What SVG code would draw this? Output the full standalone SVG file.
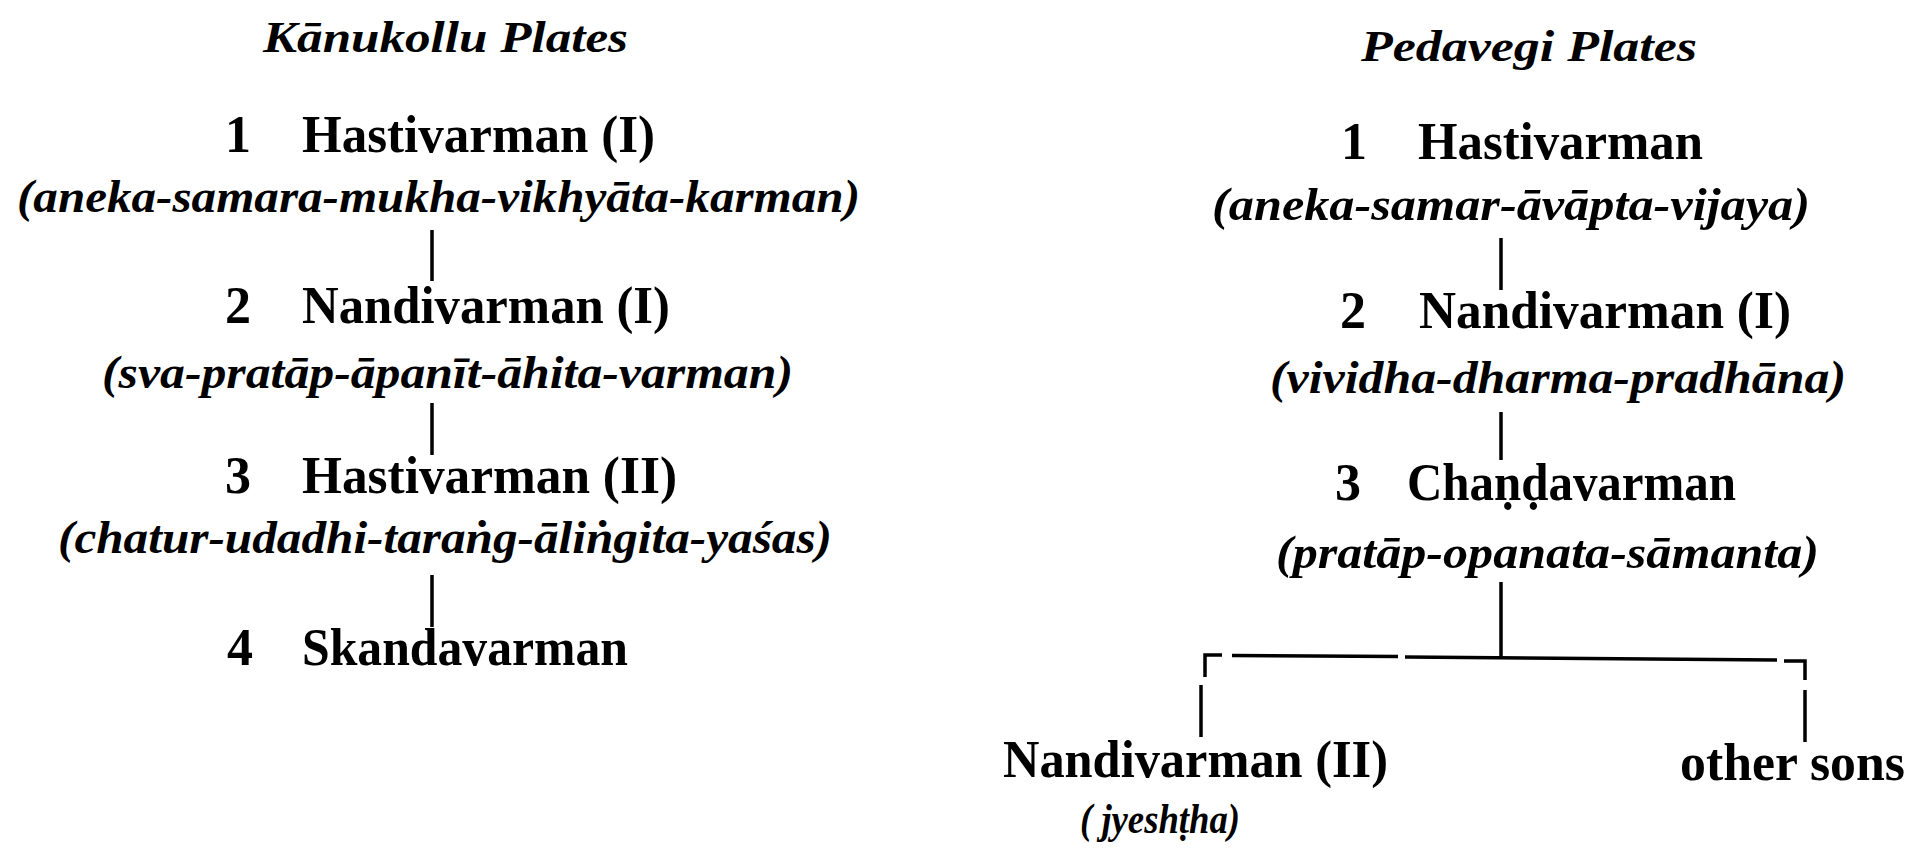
<svg xmlns="http://www.w3.org/2000/svg" width="1912" height="854" viewBox="0 0 1912 854">
<style>
text { font-family: "Liberation Serif", "Times New Roman", serif; fill: #000; }
.title { font-size: 44px; font-style: italic; font-weight: bold; }
.name { font-size: 52px; font-weight: bold; }
.num { font-size: 52px; font-weight: bold; text-anchor: middle; }
.epi { font-size: 46px; font-style: italic; font-weight: bold; }
.ln { stroke: #000; stroke-width: 3.5; fill: none; stroke-linecap: butt; }
</style>
<rect width="1912" height="854" fill="#fff"/>

<g id="title-kanukollu">
<text class="title" x="263" y="52" textLength="365" lengthAdjust="spacingAndGlyphs">Kānukollu Plates</text>
</g>
<g id="title-pedavegi">
<text class="title" x="1361" y="61" textLength="336" lengthAdjust="spacingAndGlyphs">Pedavegi Plates</text>
</g>

<g id="k1">
<text class="num" x="238" y="152">1</text>
<text class="name" x="302" y="152" textLength="353" lengthAdjust="spacingAndGlyphs">Hastivarman (I)</text>
<text class="epi" x="17" y="212" textLength="843" lengthAdjust="spacingAndGlyphs">(aneka-samara-mukha-vikhyāta-karman)</text>
</g>
<g id="k2">
<text class="num" x="238" y="323">2</text>
<text class="name" x="302" y="323" textLength="368" lengthAdjust="spacingAndGlyphs">Nandivarman (I)</text>
<text class="epi" x="102" y="388" textLength="691" lengthAdjust="spacingAndGlyphs">(sva-pratāp-āpanīt-āhita-varman)</text>
</g>
<g id="k3">
<text class="num" x="238" y="493">3</text>
<text class="name" x="302" y="493" textLength="375" lengthAdjust="spacingAndGlyphs">Hastivarman (II)</text>
<text class="epi" x="58" y="553" textLength="774" lengthAdjust="spacingAndGlyphs">(chatur-udadhi-taraṅg-āliṅgita-yaśas)</text>
</g>
<g id="k4">
<text class="num" x="240" y="665">4</text>
<text class="name" x="302" y="665" textLength="326" lengthAdjust="spacingAndGlyphs">Skandavarman</text>
</g>

<g id="p1">
<text class="num" x="1354" y="159">1</text>
<text class="name" x="1418" y="159" textLength="285" lengthAdjust="spacingAndGlyphs">Hastivarman</text>
<text class="epi" x="1212" y="220" textLength="598" lengthAdjust="spacingAndGlyphs">(aneka-samar-āvāpta-vijaya)</text>
</g>
<g id="p2">
<text class="num" x="1353" y="328">2</text>
<text class="name" x="1419" y="328" textLength="372" lengthAdjust="spacingAndGlyphs">Nandivarman (I)</text>
<text class="epi" x="1270" y="393" textLength="576" lengthAdjust="spacingAndGlyphs">(vividha-dharma-pradhāna)</text>
</g>
<g id="p3">
<text class="num" x="1348" y="500">3</text>
<text class="name" x="1407" y="500" textLength="329" lengthAdjust="spacingAndGlyphs">Chaṇḍavarman</text>
<text class="epi" x="1276" y="568" textLength="543" lengthAdjust="spacingAndGlyphs">(pratāp-opanata-sāmanta)</text>
</g>
<g id="p4a">
<text class="name" x="1003" y="777" textLength="385" lengthAdjust="spacingAndGlyphs">Nandivarman (II)</text>
<text class="epi" x="1080" y="833" textLength="160" lengthAdjust="spacingAndGlyphs" style="font-size:42px">( jyeshṭha)</text>
</g>
<g id="p4b">
<text class="name" x="1680" y="780" textLength="225" lengthAdjust="spacingAndGlyphs">other sons</text>
</g>

<g id="connectors">
<line class="ln" x1="432" y1="230" x2="432" y2="281"/>
<line class="ln" x1="432" y1="403" x2="432" y2="455"/>
<line class="ln" x1="432" y1="575" x2="432" y2="627"/>
<line class="ln" x1="1501" y1="238" x2="1501" y2="290"/>
<line class="ln" x1="1501" y1="412" x2="1501" y2="460"/>
<line class="ln" x1="1501" y1="582" x2="1501" y2="658"/>
<path class="ln" d="M1205,677 L1205,655 L1222,655"/>
<line class="ln" x1="1232" y1="655.5" x2="1398" y2="656.5"/>
<line class="ln" x1="1405" y1="657" x2="1777" y2="660"/>
<path class="ln" d="M1784,661 L1805,661 L1805,680"/>
<line class="ln" x1="1201" y1="685" x2="1201" y2="737"/>
<line class="ln" x1="1805" y1="690" x2="1805" y2="742"/>
</g>
</svg>
